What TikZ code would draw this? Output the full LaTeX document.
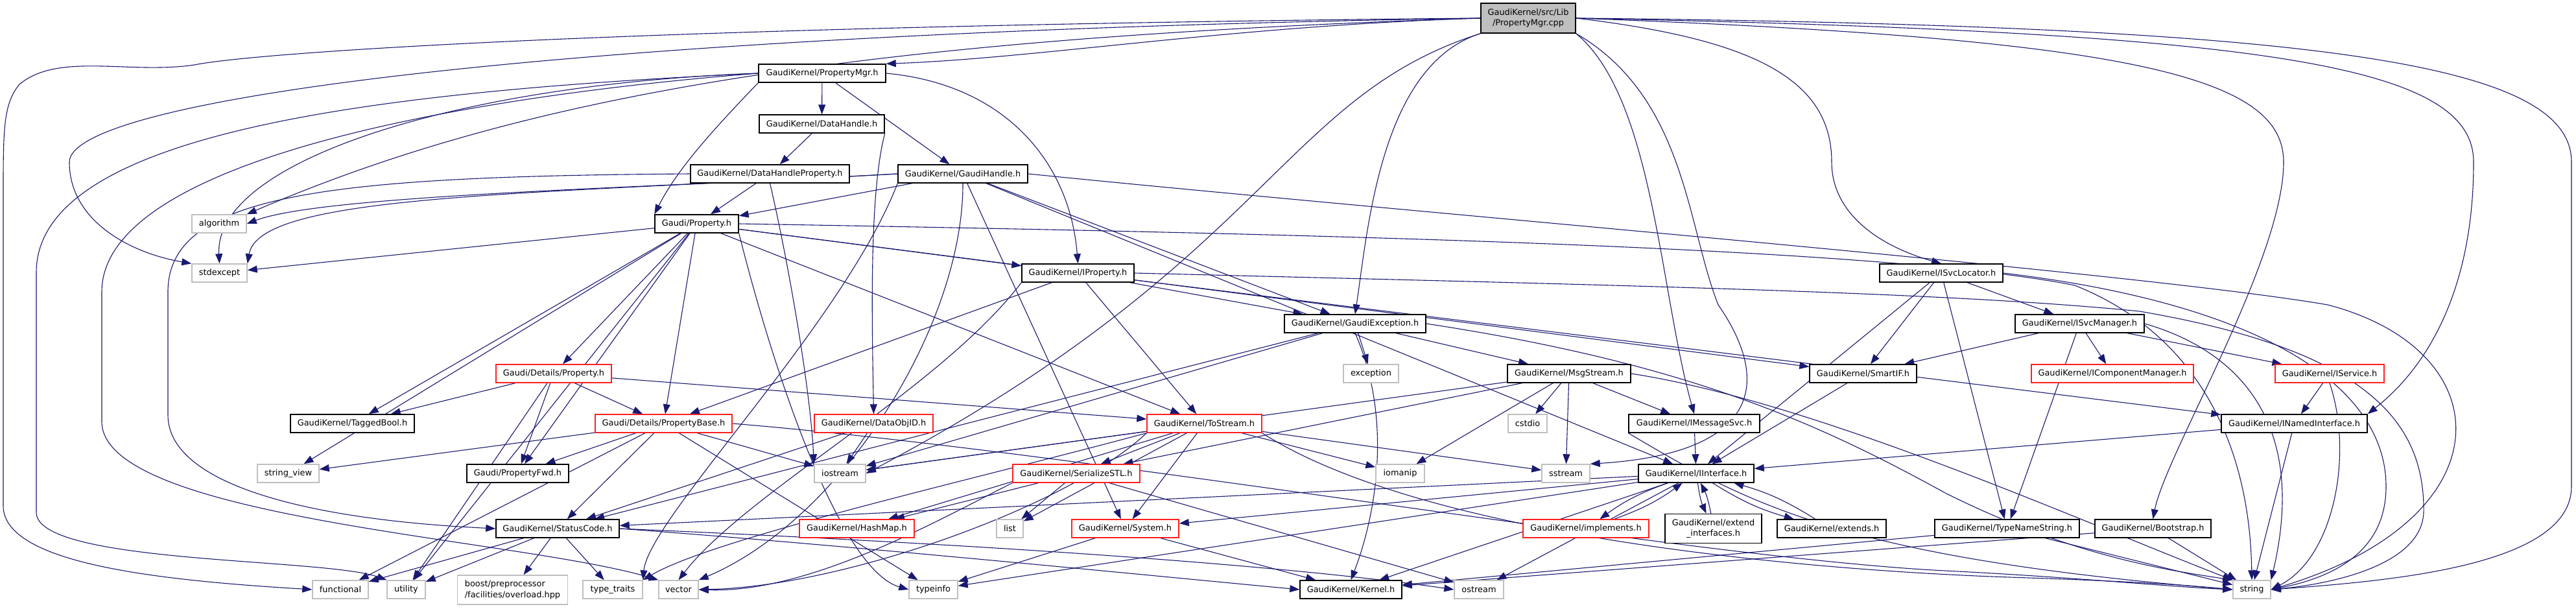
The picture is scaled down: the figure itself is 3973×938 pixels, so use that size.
\documentclass[tikz,border=0pt]{standalone}
\usepackage{fontspec}
\setmainfont{DejaVu Sans}
\usetikzlibrary{arrows.meta}
\definecolor{edgec}{HTML}{191970}
\definecolor{extc}{HTML}{BFBFBF}
\definecolor{redc}{HTML}{FF2020}
\pgfdeclarelayer{bg}
\pgfsetlayers{bg,main}
\begin{document}
\begin{tikzpicture}[x=1pt,y=1pt,
  nb/.style={draw=black, fill=white, line width=1.4pt, minimum height=28pt, inner sep=0pt, font=\fontsize{12.9}{16.7}\selectfont, align=center},
  rb/.style={nb, draw=redc},
  xb/.style={nb, draw=extc},
  edg/.style={color=edgec, line width=1.1pt, -{Stealth[length=15pt,width=11pt,inset=0pt]}}
]
\useasboundingbox (0,0) rectangle (3973,-938);
% nodes
\node[nb, fill=extc, minimum width=146, minimum height=46] (root) at (2357,-28) {GaudiKernel/src/Lib\\/PropertyMgr.cpp};
\node[nb, minimum width=196] (pmgr) at (1268,-113) {GaudiKernel/PropertyMgr.h};
\node[nb, minimum width=193] (dh) at (1267.5,-191) {GaudiKernel/DataHandle.h};
\node[nb, minimum width=245] (dhp) at (1187.5,-268) {GaudiKernel/DataHandleProperty.h};
\node[nb, minimum width=200] (gh) at (1485,-268) {GaudiKernel/GaudiHandle.h};
\node[xb, minimum width=84] (alg) at (338,-345) {algorithm};
\node[nb, minimum width=129] (prop) at (1074.5,-345) {Gaudi/Property.h};
\node[xb, minimum width=85] (stdx) at (338.5,-421) {stdexcept};
\node[nb, minimum width=173] (iprop) at (1662.5,-421) {GaudiKernel/IProperty.h};
\node[nb, minimum width=190] (isl) at (2994,-421) {GaudiKernel/ISvcLocator.h};
\node[nb, minimum width=218] (gexc) at (2090,-499) {GaudiKernel/GaudiException.h};
\node[nb, minimum width=199] (ism) at (3207.5,-499) {GaudiKernel/ISvcManager.h};
\node[rb, minimum width=178] (dprop) at (854,-576) {Gaudi/Details/Property.h};
\node[xb, minimum width=85] (exc) at (2114.5,-576) {exception};
\node[nb, minimum width=190] (msg) at (2420,-576) {GaudiKernel/MsgStream.h};
\node[nb, minimum width=165] (sif) at (2873.5,-576) {GaudiKernel/SmartIF.h};
\node[rb, minimum width=250] (icm) at (3258,-576) {GaudiKernel/IComponentManager.h};
\node[rb, minimum width=168] (isvc) at (3593,-576) {GaudiKernel/IService.h};
\node[nb, minimum width=191] (tb) at (543.5,-653) {GaudiKernel/TaggedBool.h};
\node[rb, minimum width=211] (pbase) at (1023.5,-653) {Gaudi/Details/PropertyBase.h};
\node[rb, minimum width=183] (doid) at (1347.5,-653) {GaudiKernel/DataObjID.h};
\node[rb, minimum width=177] (tos) at (1857.5,-653) {GaudiKernel/ToStream.h};
\node[xb, minimum width=60] (cstdio) at (2356,-653) {cstdio};
\node[nb, minimum width=202] (imsg) at (2613,-653) {GaudiKernel/IMessageSvc.h};
\node[nb, minimum width=225] (ini) at (3538.5,-653) {GaudiKernel/INamedInterface.h};
\node[xb, minimum width=95] (sv) at (444.5,-730) {string\_view};
\node[nb, minimum width=157] (pfwd) at (798.5,-730) {Gaudi/PropertyFwd.h};
\node[xb, minimum width=79] (ios) at (1295.5,-730) {iostream};
\node[rb, minimum width=196] (sstl) at (1660,-730) {GaudiKernel/SerializeSTL.h};
\node[xb, minimum width=75] (iom) at (2159.5,-730) {iomanip};
\node[xb, minimum width=74] (sst) at (2415,-730) {sstream};
\node[nb, minimum width=178] (iint) at (2616,-730) {GaudiKernel/IInterface.h};
\node[nb, minimum width=190] (sc) at (860,-815) {GaudiKernel/StatusCode.h};
\node[rb, minimum width=177] (hm) at (1321.5,-815) {GaudiKernel/HashMap.h};
\node[xb, minimum width=41] (list) at (1557.5,-815) {list};
\node[rb, minimum width=165] (sys) at (1735.5,-815) {GaudiKernel/System.h};
\node[rb, minimum width=194] (impl) at (2446,-815) {GaudiKernel/implements.h};
\node[nb, minimum width=149, minimum height=45] (ext) at (2642.5,-815) {GaudiKernel/extend\\\_interfaces.h};
\node[nb, minimum width=168] (exts) at (2825,-815) {GaudiKernel/extends.h};
\node[nb, minimum width=223] (tns) at (3095.5,-815) {GaudiKernel/TypeNameString.h};
\node[nb, minimum width=179] (boot) at (3320.5,-815) {GaudiKernel/Bootstrap.h};
\node[xb, minimum width=86] (func) at (525,-909) {functional};
\node[xb, minimum width=59] (util) at (626.5,-909) {utility};
\node[xb, minimum width=170, minimum height=45, align=left] (boost) at (790.5,-909.5) {boost/preprocessor\\/facilities/overload.hpp};
\node[xb, minimum width=92] (tt) at (945,-909) {type\_traits};
\node[xb, minimum width=61] (vec) at (1046.5,-909) {vector};
\node[xb, minimum width=75] (tinfo) at (1439.5,-909) {typeinfo};
\node[nb, minimum width=157] (kern) at (2083.5,-909) {GaudiKernel/Kernel.h};
\node[xb, minimum width=76] (ost) at (2281,-909) {ostream};
\node[xb, minimum width=58] (str) at (3473,-909) {string};
% edges
\begin{pgfonlayer}{bg}
% root
\draw[edg] (root.west) .. controls (1900,-40) and (1600,-90) .. (pmgr.north east);
\draw[edg] (root.west) .. controls (1000,-40) and (400,-80) .. (300,-100) .. controls (200,-115) and (90,-80) .. (30,-130) .. controls (5,-160) and (5,-200) .. (5,-300) -- (5,-780) .. controls (5,-870) and (250,-895) .. (func.west);
\draw[edg] (root.west) .. controls (900,-50) and (107,-150) .. (107,-250) .. controls (107,-340) and (200,-390) .. (stdx.north west);
\draw[edg] (root.west) .. controls (1300,-60) and (800,-150) .. (alg.north east);
\draw[edg] (root.south west) .. controls (1975,-150) and (1960,-400) .. (ios.east);
\draw[edg] (root.south west) .. controls (2130,-100) and (2110,-350) .. (gexc.north);
\draw[edg] (root.south east) .. controls (2550,-150) and (2560,-450) .. (imsg.north);
\draw[edg] (root.south east) .. controls (2600,-150) and (2602,-350) .. (2650,-470) .. controls (2740,-600) and (2700,-700) .. (sst.north east);
\draw[edg] (root.east) .. controls (2700,-60) and (2825,-120) .. (2825,-250) .. controls (2825,-330) and (2900,-380) .. (isl.north);
\draw[edg] (root.east) .. controls (3300,-60) and (3522,-120) .. (3522,-250) .. controls (3522,-400) and (3340,-700) .. (boot.north);
\draw[edg] (root.east) .. controls (3500,-50) and (3815,-100) .. (3815,-250) .. controls (3815,-500) and (3700,-600) .. (ini.north east);
\draw[edg] (root.east) .. controls (3600,-40) and (3966,-100) .. (3966,-250) -- (3966,-750) .. controls (3966,-870) and (3700,-895) .. (str.east);
% PropertyMgr.h
\draw[edg] (pmgr) -- (dh);
\draw[edg] (pmgr) -- (gh);
\draw[edg] (pmgr.south west) .. controls (1100,-200) and (1045,-260) .. (prop.north west);
\draw[edg] (pmgr.east) .. controls (1550,-130) and (1650,-250) .. (iprop.north);
\draw[edg] (pmgr.west) .. controls (700,-130) and (330,-250) .. (stdx.north);
\draw[edg] (pmgr.west) .. controls (600,-140) and (56,-200) .. (56,-420) -- (56,-790) .. controls (56,-870) and (500,-860) .. (util.north west);
\draw[edg] (pmgr.west) .. controls (700,-150) and (157,-250) .. (157,-450) -- (157,-650) .. controls (157,-800) and (800,-830) .. (vec.north west);
% DataHandle
\draw[edg] (dh) -- (dhp);
\draw[edg] (dh.south east) .. controls (1340,-300) and (1345,-500) .. (doid.north);
\draw[edg] (dhp) -- (prop);
\draw[edg] (dhp.south) .. controls (1215,-400) and (1250,-600) .. (ios.north west);
\draw[edg] (dhp.west) .. controls (500,-272) and (259,-300) .. (259,-450) -- (259,-640) .. controls (259,-740) and (450,-800) .. (sc.west);
% GaudiHandle
\draw[edg] (gh) -- (prop);
\draw[edg] (gh.west) .. controls (1000,-290) and (500,-300) .. (alg.east);
\draw[edg] (gh.west) .. controls (800,-300) and (400,-300) .. (stdx.north east);
\draw[edg] (gh.east) .. controls (2200,-330) and (3300,-420) .. (3590,-470) .. controls (3860,-540) and (3870,-800) .. (str.east);
\draw[edg] (gh) -- (iint);
\draw[edg] (gh) -- (gexc);
\draw[edg] (gh) -- (sys);
\draw[edg] (gh.south) .. controls (1486,-500) and (1300,-800) .. (vec.north east);
\draw[edg] (gh.south west) .. controls (1300,-500) and (1000,-800) .. (tt.north east);
% Property.h
\draw[edg] (prop) -- (dprop);
\draw[edg] (prop) -- (pbase);
\draw[edg] (prop) -- (pfwd);
\draw[edg] (prop) -- (tb);
\draw[edg] (prop) -- (sv);
\draw[edg] (prop) -- (stdx);
\draw[edg] (prop) -- (util);
\draw[edg] (prop.south east) .. controls (1200,-600) and (1300,-880) .. (tinfo.west);
\draw[edg] (prop) -- (tos);
\draw[edg] (prop) -- (iprop);
\draw[edg] (prop) -- (sif);
\draw[edg] (prop.east) .. controls (2000,-360) and (2900,-380) .. (3200,-440) .. controls (3400,-520) and (3470,-700) .. (str.north);
% IProperty
\draw[edg] (iprop) -- (pbase);
\draw[edg] (iprop) -- (tos);
\draw[edg] (iprop) -- (gexc);
\draw[edg] (iprop) -- (ini);
\draw[edg] (iprop.east) .. controls (2500,-440) and (3000,-450) .. (3300,-480) .. controls (3650,-540) and (3740,-650) .. (3738,-790) .. controls (3735,-870) and (3600,-900) .. (str.east);
\draw[edg] (iprop.south west) .. controls (1450,-600) and (1150,-760) .. (vec.north);
% GaudiException
\draw[edg] (gexc) -- (exc);
\draw[edg] (gexc) -- (msg);
\draw[edg] (gexc.south) .. controls (2150,-650) and (2120,-800) .. (kern.north);
\draw[edg] (gexc) -- (sc);
\draw[edg] (gexc) -- (ios);
\draw[edg] (gexc.east) .. controls (2600,-560) and (2800,-650) .. (3000,-760) .. controls (3200,-860) and (3350,-880) .. (str.north west);
% MsgStream
\draw[edg] (msg) -- (cstdio);
\draw[edg] (msg) -- (sst);
\draw[edg] (msg) -- (imsg);
\draw[edg] (msg) -- (iom);
\draw[edg] (msg) -- (ios);
\draw[edg] (msg.east) .. controls (2800,-620) and (3200,-800) .. (str.north west);
\draw[edg] (msg) -- (sstl);
% ToStream
\draw[edg] (tos) -- (ios);
\draw[edg] (tos) -- (sstl);
\draw[edg] (tos) -- (sys);
\draw[edg] (tos) -- (iom);
\draw[edg] (tos) -- (sst);
\draw[edg] (tos.south east) .. controls (2200,-830) and (2800,-880) .. (3100,-890) .. controls (3250,-895) and (3350,-900) .. (str.west);
\draw[edg] (tos) -- (hm);
\draw[edg] (tos) -- (list);
\draw[edg] (tos.south west) .. controls (1650,-780) and (1300,-905) .. (vec.east);
\draw[edg] (tos.south west) .. controls (1500,-740) and (1100,-830) .. (tt.north east);
% SerializeSTL
\draw[edg] (sstl) -- (hm);
\draw[edg] (sstl) -- (list);
\draw[edg] (sstl.south west) .. controls (1450,-800) and (1250,-915) .. (vec.east);
\draw[edg] (sstl) -- (ost);
% Details/Property
\draw[edg] (dprop) -- (tb);
\draw[edg] (dprop) -- (pfwd);
\draw[edg] (dprop) -- (pbase);
\draw[edg] (dprop) -- (tos);
\draw[edg] (dprop) -- (util);
% PropertyBase
\draw[edg] (pbase) -- (pfwd);
\draw[edg] (pbase) -- (sv);
\draw[edg] (pbase) -- (ios);
\draw[edg] (pbase) -- (sc);
\draw[edg] (pbase) -- (func);
\draw[edg] (pbase) -- (tinfo);
\draw[edg] (pbase.east) .. controls (1700,-700) and (2600,-860) .. (3000,-880) .. controls (3200,-890) and (3350,-905) .. (str.west);
% DataObjID
\draw[edg] (doid) -- (sc);
\draw[edg] (doid) -- (ios);
% System
\draw[edg] (sys) -- (tinfo);
\draw[edg] (sys) -- (kern);
% IInterface
\draw[edg] (iint) to[bend right=8] (impl);
\draw[edg] (impl) to[bend right=8] (iint);
\draw[edg] (iint) to[bend right=8] (ext);
\draw[edg] (ext) to[bend right=8] (iint);
\draw[edg] (iint) to[bend right=8] (exts);
\draw[edg] (exts) to[bend right=8] (iint);
\draw[edg] (iint) -- (sys);
\draw[edg] (iint) -- (sc);
\draw[edg] (iint) -- (tinfo);
\draw[edg] (iint) -- (ost);
\draw[edg] (iint) -- (kern);
% services
\draw[edg] (imsg) -- (iint);
\draw[edg] (imsg.south west) .. controls (2700,-780) and (2850,-860) .. (str.west);
\draw[edg] (sif) -- (iint);
\draw[edg] (isl) -- (ism);
\draw[edg] (isl) -- (sif);
\draw[edg] (isl) -- (iint);
\draw[edg] (isl) -- (tns);
\draw[edg] (isl.east) .. controls (3500,-470) and (3680,-600) .. (3680,-750) .. controls (3680,-850) and (3600,-890) .. (str.east);
\draw[edg] (ism) -- (sif);
\draw[edg] (ism) -- (icm);
\draw[edg] (ism) -- (isvc);
\draw[edg] (ism) -- (tns);
\draw[edg] (ism.east) .. controls (3450,-540) and (3560,-650) .. (str.north east);
\draw[edg] (isvc) -- (ini);
\draw[edg] (isvc.south) .. controls (3630,-700) and (3600,-860) .. (str.east);
\draw[edg] (ini) -- (iint);
\draw[edg] (ini) -- (str);
\draw[edg] (tns) -- (kern);
\draw[edg] (tns) -- (str);
\draw[edg] (boot) -- (kern);
\draw[edg] (boot) -- (str);
% StatusCode
\draw[edg] (sc) -- (func);
\draw[edg] (sc) -- (util);
\draw[edg] (sc) -- (boost);
\draw[edg] (sc) -- (tt);
\draw[edg] (sc.east) .. controls (1300,-830) and (1900,-860) .. (ost.west);
\draw[edg] (sc.east) .. controls (1300,-840) and (1800,-890) .. (kern.west);
\end{pgfonlayer}
\end{tikzpicture}
\end{document}
